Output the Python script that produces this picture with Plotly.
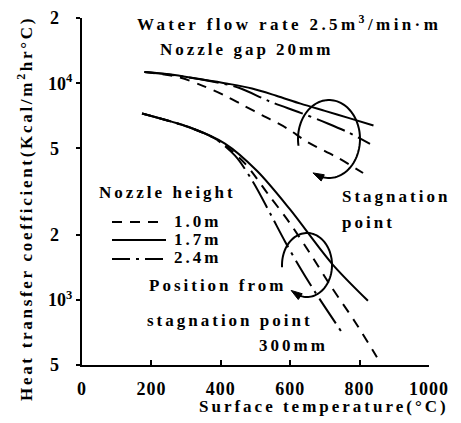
import numpy as np
import plotly.graph_objects as go

# ---------------- data ----------------
# Stagnation point curves (Nozzle height 1.7 m, 2.4 m, 1.0 m)
stag_17_x = [180, 250, 340, 420, 490, 560, 630, 700, 770, 840]
stag_17_y = [11250, 11000, 10450, 9950, 9450, 8750, 8050, 7450, 6900, 6380]
stag_24_x = [180, 270, 360, 450, 540, 630, 710, 770, 830]
stag_24_y = [11250, 10850, 10300, 9550, 8250, 7300, 6500, 5900, 5250]
stag_10_x = [180, 280, 350, 410, 465, 520, 590, 650, 740, 810]
stag_10_y = [11250, 10650, 9700, 8800, 7900, 7100, 6200, 5350, 4500, 3850]

# 300 mm from stagnation point curves
pos_17_x = [173, 311, 412, 504, 599, 720, 824]
pos_17_y = [7250, 6240, 5260, 3940, 2620, 1470, 990]
pos_10_x = [173, 311, 398, 470, 536, 599, 657, 715, 787, 850]
pos_10_y = [7250, 6240, 5370, 4250, 3080, 2260, 1640, 1170, 790, 543]
pos_24_x = [173, 311, 383, 441, 493, 542, 585, 628, 671, 752]
pos_24_y = [7250, 6240, 5550, 4630, 3500, 2510, 1860, 1410, 1090, 695]

x_ticks = [0, 200, 400, 600, 800, 1000]
y_ticks = [20000, 10000, 5000, 2000, 1000, 500]
y_tick_text = ["2", "10<sup>4</sup>", "5", "2", "10<sup>3</sup>", "5"]

legend_labels = ["1.0m", "1.7m", "2.4m"]

DASH_10 = "10px,8px"
DASH_17 = "solid"
DASH_24 = "30px,6px,3px,6px"

# ---------------- layout geometry ----------------
# the page body has an 8px margin, so the figure is drawn at (8, 8) in the window
OFF = 8
W, H = 453, 415
PLOT_L, PLOT_T, PLOT_R, PLOT_B = 82, 18, 429, 365      # window pixel coords of plot area
L, T = PLOT_L - OFF, PLOT_T - OFF
PW, PH = PLOT_R - PLOT_L, PLOT_B - PLOT_T
R, B = W - L - PW, H - T - PH


def pu(px):
    return (px - PLOT_L) / PW


def pv(py):
    return (PLOT_B - py) / PH


FONT = "Liberation Serif"


def sp(s, spacing=3):
    return f'<span style="letter-spacing:{spacing}px">{s}</span>'


fig = go.Figure()


def add_line(xs, ys, dash):
    fig.add_trace(go.Scatter(
        x=xs, y=ys, mode="lines",
        line=dict(color="black", width=2, dash=dash, shape="spline", smoothing=0.9),
        showlegend=False, hoverinfo="skip"))


add_line(stag_17_x, stag_17_y, DASH_17)
add_line(stag_24_x, stag_24_y, DASH_24)
add_line(stag_10_x, stag_10_y, DASH_10)
add_line(pos_17_x, pos_17_y, DASH_17)
add_line(pos_10_x, pos_10_y, DASH_10)
add_line(pos_24_x, pos_24_y, DASH_24)

shapes = []
annotations = []


def add_arc(cx, cy, rx, ry, a0, a1, n=90):
    ts = np.radians(np.linspace(a0, a1, n))
    pts = [(pu(cx + rx * np.cos(t)), pv(cy - ry * np.sin(t))) for t in ts]
    d = "M " + " L ".join(f"{u:.4f},{v:.4f}" for u, v in pts)
    shapes.append(dict(type="path", xref="paper", yref="paper", path=d,
                       line=dict(color="black", width=2)))
    # arrow head (filled wedge) at the end, pointing along travel direction
    t = np.radians(a1)
    ex, ey = cx + rx * np.cos(t), cy - ry * np.sin(t)
    dx, dy = rx * np.sin(t), ry * np.cos(t)
    nrm = np.hypot(dx, dy)
    dx, dy = dx / nrm, dy / nrm
    tipx, tipy = ex + dx * 5, ey + dy * 5
    bx, by = ex - dx * 6, ey - dy * 6
    nx, ny = -dy, dx
    p1 = (bx + nx * 3.5, by + ny * 3.5)
    p2 = (bx - nx * 3.5, by - ny * 3.5)
    tri = (f"M {pu(tipx):.4f},{pv(tipy):.4f} L {pu(p1[0]):.4f},{pv(p1[1]):.4f} "
           f"L {pu(p2[0]):.4f},{pv(p2[1]):.4f} Z")
    shapes.append(dict(type="path", xref="paper", yref="paper", path=tri,
                       fillcolor="black", line=dict(color="black", width=1)))


add_arc(329, 139, 31, 39, 190, -112)
add_arc(307, 265, 25, 32, 184, -118)

# legend samples
for py, dash in [(222, DASH_10), (240, DASH_17), (259, "18px,6px,3px,6px")]:
    shapes.append(dict(type="line", xref="paper", yref="paper",
                       x0=pu(112), x1=pu(166), y0=pv(py), y1=pv(py),
                       line=dict(color="black", width=2, dash=dash)))


def txt(s, px, py, size=17, anchor="left", spacing=3, **kw):
    annotations.append(dict(xref="paper", yref="paper", x=pu(px), y=pv(py), text=sp(s, spacing),
                            showarrow=False, xanchor=anchor, yanchor="middle",
                            font=dict(family=FONT, size=size, color="black", weight="bold"), **kw))


txt("Water flow rate 2.5m<sup>3</sup>/min·m", 135, 23, spacing=3.4)
txt("Nozzle gap 20mm", 158, 49)
txt("Stagnation", 340, 197)
txt("point", 340, 223)
txt("Nozzle height", 97, 192)
for lab, py in zip(legend_labels, [221, 239, 258]):
    txt(lab, 172, py)
txt("Position from", 147, 285)
txt("stagnation point", 145, 320)
txt("300mm", 257, 345)
txt("Surface temperature(°C)", 324, 407, anchor="center")
txt("Heat transfer coefficient(Kcal/m<sup>2</sup>hr°C)", 25, 209, anchor="center",
    spacing=2.7, textangle=-90)

tickfont = dict(family=FONT, size=18, color="black", weight="bold")
# single-digit labels sit further left in the reference than the "10ⁿ" labels
y_tick_labels = [t if t.startswith("10") else t + "&nbsp;&nbsp;&nbsp;" for t in y_tick_text]

fig.update_layout(
    width=W, height=H,
    margin=dict(l=L, r=R, t=T, b=B, autoexpand=False),
    paper_bgcolor="white", plot_bgcolor="white",
    shapes=shapes, annotations=annotations,
    showlegend=False,
    xaxis=dict(range=[0, 1000], tickvals=x_ticks,
               ticktext=[sp(str(v), 1) for v in x_ticks],
               showgrid=False, zeroline=False, automargin=False,
               showline=True, linecolor="black", linewidth=2,
               ticks="inside", ticklen=5, tickwidth=2, tickcolor="black",
               ticklabelstandoff=6, tickfont=tickfont),
    yaxis=dict(type="log", range=[np.log10(500), np.log10(20000)],
               tickvals=y_ticks, ticktext=y_tick_labels,
               showgrid=False, zeroline=False, automargin=False,
               showline=True, linecolor="black", linewidth=2,
               ticks="outside", ticklen=4, tickwidth=2, tickcolor="black",
               ticklabelstandoff=0, tickfont=tickfont),
)

fig.write_html("out.html")
